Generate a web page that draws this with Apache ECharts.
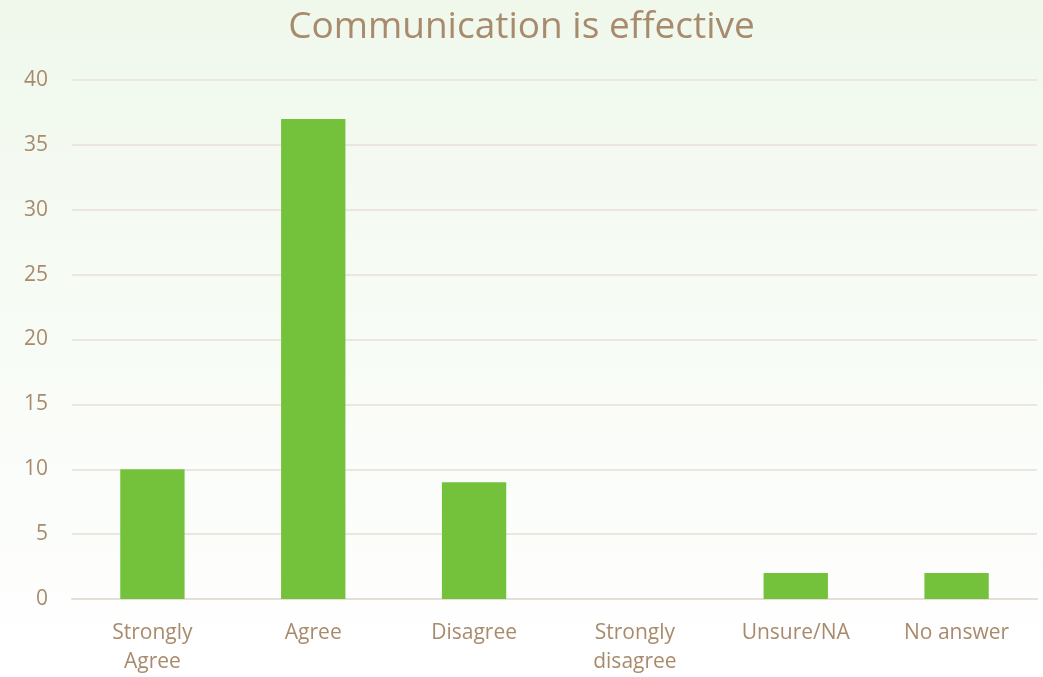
<!DOCTYPE html>
<html>
<head>
<meta charset="utf-8">
<script src="https://cdn.jsdelivr.net/npm/echarts@6/dist/echarts.min.js"></script>
<style>
  html, body { margin: 0; padding: 0; }
  #chart { width: 1043px; height: 677px; }
</style>
</head>
<body>
<div id="chart"></div>
<script>
  // data
  var categories = ['Strongly\nAgree', 'Agree', 'Disagree', 'Strongly\ndisagree', 'Unsure/NA', 'No answer'];
  var counts = [10, 37, 9, 0, 2, 2];
  var titleText = 'Communication is effective';

  var textColor = '#a88b6d';
  var font = '"Open Sans", Lato, sans-serif';

  var chart = echarts.init(document.getElementById('chart'));
  chart.setOption({
    backgroundColor: new echarts.graphic.LinearGradient(0, 0, 0, 1, [
      { offset: 0, color: '#f0f8ec' },
      { offset: 1, color: '#ffffff' }
    ]),
    title: {
      text: titleText,
      left: 'center',
      top: 4,
      textStyle: { color: textColor, fontSize: 37, fontWeight: 'normal', fontFamily: font }
    },
    grid: { left: 72, right: 6, top: 80, bottom: 67 },
    xAxis: {
      type: 'category',
      data: categories,
      axisTick: { show: false },
      axisLine: { lineStyle: { color: '#e6dfd8', width: 2 } },
      axisLabel: { color: textColor, fontSize: 21, fontFamily: font, margin: 20, lineHeight: 29, interval: 0 }
    },
    yAxis: {
      type: 'value',
      min: 0,
      max: 40,
      interval: 5,
      axisLine: { show: false },
      axisTick: { show: false },
      splitLine: { lineStyle: { color: '#ede6df', width: 2 } },
      axisLabel: { color: textColor, fontSize: 21, fontFamily: font, margin: 24 }
    },
    series: [{
      type: 'bar',
      data: counts,
      barCategoryGap: '60%',
      itemStyle: { color: '#74c23b' }
    }]
  });
</script>
</body>
</html>
